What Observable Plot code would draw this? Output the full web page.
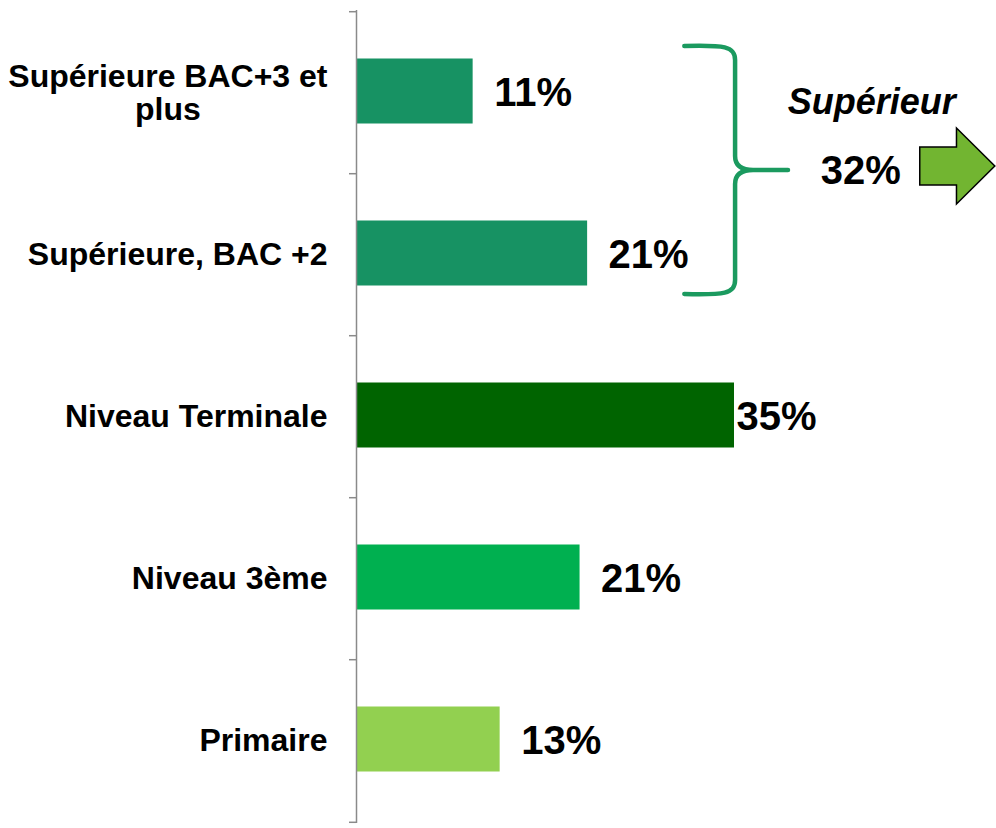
<!DOCTYPE html>
<html>
<head>
<meta charset="utf-8">
<script src="https://cdn.jsdelivr.net/npm/d3@7"></script>
<script src="https://cdn.jsdelivr.net/npm/@observablehq/plot@0.6"></script>
<style>
  html, body { margin: 0; padding: 0; background: #fff; }
  svg { display: block; }
</style>
</head>
<body>
<div id="chart"></div>
<script>
// ---- data ----
const categories = ["Supérieure BAC+3 et plus", "Supérieure, BAC +2", "Niveau Terminale", "Niveau 3ème", "Primaire"];
const values = [10.8, 21.4, 35.0, 20.7, 13.3];
const valueLabels = ["11%", "21%", "35%", "21%", "13%"];
const barColors = ["#179263", "#179263", "#006400", "#00B050", "#92D050"];
const groupMembers = ["Supérieure BAC+3 et plus", "Supérieure, BAC +2"];
const groupTitle = "Supérieur";
const groupValue = "32%";

const rows = categories.map((c, i) => ({cat: c, value: values[i], label: valueLabels[i], color: barColors[i]}));
const maxValue = d3.max(values);

const FONT = "'Liberation Sans', Arial, Helvetica, sans-serif";
const W = 996, H = 828, ML = 356;
const pxPerPct = 10.8;
const xMax = (W - ML) / pxPerPct;

function textWidth(str, size) {
  const c = document.createElement("canvas").getContext("2d");
  c.font = `bold ${size}px ${FONT}`;
  return c.measureText(str).width;
}
const wrapped = {"Supérieure BAC+3 et plus": ["Supérieure BAC+3 et", "plus"]};
const singleCats = categories.filter(c => !wrapped[c]);
const wrapCats = categories.filter(c => wrapped[c]);
const labelSize = 32;
const valueSize = 40;

function braceMark(index, scales, vals, dims) {
  const y = scales.y, x = scales.x, bw = y.bandwidth();
  const yTop = y(groupMembers[0]) - 14;
  const yBot = y(groupMembers[groupMembers.length - 1]) + bw + 7;
  const yMid = (yTop + yBot) / 2;
  const x0 = x(30.4), xv = x(35.1), xt = x(40.0);
  const g = d3.create("svg:g");
  const p = d3.path();
  p.moveTo(x0, yTop);
  p.bezierCurveTo(x0 + 40, yTop - 1, xv, yTop, xv, yTop + 14);
  p.lineTo(xv, yMid - 14);
  p.quadraticCurveTo(xv, yMid, xv + 18, yMid);
  p.lineTo(xt, yMid);
  p.moveTo(xv + 18, yMid);
  p.quadraticCurveTo(xv, yMid, xv, yMid + 14);
  p.lineTo(xv, yBot - 14);
  p.bezierCurveTo(xv, yBot, x0 + 40, yBot + 1, x0, yBot);
  g.append("path").attr("d", p.toString())
    .attr("fill", "none").attr("stroke", "#1B9A5F").attr("stroke-width", 4.5)
    .attr("stroke-linecap", "round").attr("stroke-linejoin", "round");
  const ay = yMid - 4;
  const ax0 = x(52.2), axh = x(55.6), axt = x(59.15);
  const pts = [[ax0, ay - 19], [axh, ay - 19], [axh, ay - 38], [axt, ay], [axh, ay + 38], [axh, ay + 19], [ax0, ay + 19]];
  g.append("polygon").attr("points", pts.map(p => p.join(",")).join(" "))
    .attr("fill", "#72B531").attr("stroke", "#000").attr("stroke-width", 1.5)
    .attr("stroke-linejoin", "miter");
  return g.node();
}

const bandStep = (H - 10 - 5) / categories.length;

const chart = Plot.plot({
  width: W,
  height: H,
  marginLeft: ML,
  marginRight: 0,
  marginTop: 10,
  marginBottom: 5,
  style: {fontFamily: FONT, background: "#fff"},
  x: {domain: [0, xMax], axis: null},
  y: {domain: categories, paddingInner: 0.6, paddingOuter: 0.3, axis: null},
  marks: [
    Plot.barX(rows, {x: "value", y: "cat", fill: "color", dy: -1.5}),
    Plot.ruleX([0], {stroke: "#8A8A8A", strokeWidth: 1.5}),
    Plot.ruleY(categories, {y: d => d, x1: 0, x2: 0, insetLeft: -7, dy: -bandStep / 2, stroke: "#8A8A8A", strokeWidth: 1.5}),
    Plot.ruleY(categories.slice(-1), {y: d => d, x1: 0, x2: 0, insetLeft: -7, dy: bandStep / 2, stroke: "#8A8A8A", strokeWidth: 1.5}),
    Plot.text(singleCats, {x: 0, y: d => d, text: d => d, textAnchor: "end", dx: -29,
      fontSize: labelSize, fontWeight: "bold", fill: "#000"}),
    Plot.text(wrapCats, {x: 0, y: d => d, text: d => wrapped[d].join("\n"), textAnchor: "middle",
      dx: -29 - textWidth(wrapCats.length ? wrapped[wrapCats[0]][0] : "", labelSize) / 2,
      lineHeight: 1.04, fontSize: labelSize, fontWeight: "bold", fill: "#000"}),
    Plot.text(rows.filter(d => d.value < maxValue), {x: "value", y: "cat", text: "label", textAnchor: "start", dx: 21,
      fontSize: valueSize, fontWeight: "bold", fill: "#000"}),
    Plot.text(rows.filter(d => d.value === maxValue), {x: "value", y: "cat", text: "label", textAnchor: "start", dx: 2,
      fontSize: valueSize, fontWeight: "bold", fill: "#000"}),
    braceMark,
    Plot.text([groupTitle], {x: 47.7, y: () => groupMembers[0], text: d => d, textAnchor: "middle", dy: 9,
      fontSize: 36, fontWeight: "bold", fontStyle: "italic", fill: "#000"}),
    Plot.text([groupValue], {x: 46.7, y: () => groupMembers[0], text: d => d, textAnchor: "middle", dy: 78,
      fontSize: valueSize, fontWeight: "bold", fill: "#000"})
  ]
});
document.getElementById("chart").appendChild(chart);
</script>
</body>
</html>
